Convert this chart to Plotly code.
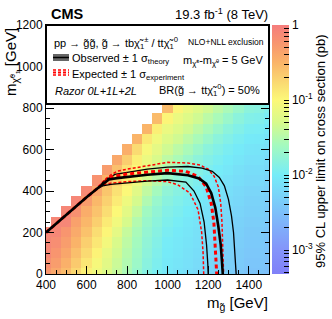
import math
import plotly.graph_objects as go

# ---------------- data ----------------
gluino_mass = list(range(400, 1501, 50))      # bin centres [GeV]
lsp_mass = list(range(0, 801, 50))            # bin centres [GeV]

# log10(95% CL upper limit [pb]); each row starts at the first allowed gluino bin
log10_limit_rows = [
    [-0.25, -0.40, -0.55, -0.75, -0.95, -1.10, -1.25, -1.40, -1.55, -1.70, -1.85, -1.95, -2.05, -2.10, -2.15, -2.20, -2.25, -2.30, -2.35, -2.40, -2.45, -2.45, -2.50],
    [-0.18, -0.31, -0.47, -0.66, -0.86, -1.05, -1.21, -1.37, -1.52, -1.67, -1.83, -1.93, -2.03, -2.08, -2.13, -2.18, -2.23, -2.28, -2.33, -2.38, -2.43, -2.43, -2.48],
    [-0.11, -0.24, -0.38, -0.58, -0.77, -0.96, -1.16, -1.33, -1.49, -1.64, -1.80, -1.91, -2.01, -2.06, -2.11, -2.16, -2.21, -2.26, -2.31, -2.36, -2.41, -2.41, -2.46],
    [-0.10, -0.17, -0.31, -0.49, -0.69, -0.87, -1.07, -1.28, -1.45, -1.61, -1.77, -1.88, -1.99, -2.04, -2.09, -2.14, -2.19, -2.24, -2.29, -2.34, -2.39, -2.39, -2.44],
    [-0.10, -0.10, -0.24, -0.42, -0.60, -0.79, -0.98, -1.19, -1.40, -1.57, -1.74, -1.85, -1.96, -2.02, -2.07, -2.12, -2.17, -2.22, -2.27, -2.32, -2.37, -2.37, -2.42],
    [-0.10, -0.10, -0.34, -0.52, -0.69, -0.89, -1.09, -1.30, -1.51, -1.69, -1.81, -1.92, -1.98, -2.04, -2.09, -2.14, -2.19, -2.24, -2.29, -2.34, -2.34, -2.39],
    [-0.10, -0.20, -0.44, -0.61, -0.79, -1.00, -1.20, -1.41, -1.63, -1.76, -1.88, -1.94, -2.00, -2.06, -2.11, -2.16, -2.21, -2.26, -2.31, -2.31, -2.36],
    [-0.10, -0.30, -0.53, -0.71, -0.90, -1.11, -1.31, -1.53, -1.70, -1.83, -1.90, -1.96, -2.02, -2.08, -2.13, -2.18, -2.23, -2.28, -2.28, -2.33],
    [-0.13, -0.39, -0.63, -0.82, -1.01, -1.22, -1.43, -1.60, -1.77, -1.85, -1.92, -1.98, -2.04, -2.10, -2.15, -2.20, -2.25, -2.25, -2.30],
    [-0.21, -0.48, -0.73, -0.92, -1.11, -1.33, -1.49, -1.66, -1.78, -1.86, -1.93, -1.99, -2.05, -2.11, -2.16, -2.21, -2.21, -2.26],
    [-0.30, -0.58, -0.83, -1.02, -1.22, -1.39, -1.55, -1.67, -1.79, -1.87, -1.94, -2.00, -2.06, -2.12, -2.17, -2.17, -2.22],
    [-0.40, -0.68, -0.93, -1.13, -1.28, -1.45, -1.56, -1.68, -1.80, -1.88, -1.95, -2.01, -2.07, -2.13, -2.13, -2.18],
    [-0.45, -0.78, -1.04, -1.19, -1.34, -1.46, -1.57, -1.69, -1.81, -1.89, -1.96, -2.02, -2.08, -2.09, -2.14],
    [-0.50, -0.88, -1.09, -1.24, -1.34, -1.46, -1.57, -1.69, -1.81, -1.89, -1.96, -2.02, -2.03, -2.09],
    [-0.50, -0.93, -1.14, -1.24, -1.34, -1.46, -1.57, -1.69, -1.81, -1.89, -1.96, -1.97, -2.03],
    [-0.55, -0.98, -1.14, -1.24, -1.34, -1.46, -1.57, -1.69, -1.81, -1.89, -1.91, -1.97],
    [-0.55, -0.98, -1.14, -1.24, -1.34, -1.46, -1.57, -1.69, -1.81, -1.84, -1.91],
]

# exclusion contours (gluino mass, LSP mass)
obs_x = [400, 450, 500, 550, 600, 650, 690, 710, 750, 800, 900, 1000, 1100, 1155, 1190, 1215, 1235, 1250, 1262, 1268, 1272]
obs_y = [200, 243, 285, 328, 370, 410, 442, 455, 462, 468, 478, 486, 476, 460, 435, 390, 320, 230, 140, 60, 0]

obs_up_x = [400, 450, 500, 550, 600, 650, 690, 740, 800, 900, 1000, 1100, 1170, 1220, 1255, 1280, 1300, 1315, 1325, 1333, 1338]
obs_up_y = [200, 243, 285, 328, 370, 410, 450, 480, 490, 505, 515, 518, 510, 495, 465, 425, 360, 280, 200, 100, 0]

obs_dn_x = [400, 450, 500, 550, 600, 650, 680, 720, 800, 900, 1000, 1090, 1130, 1160, 1180, 1192, 1198, 1200]
obs_dn_y = [200, 243, 285, 328, 370, 410, 425, 432, 440, 448, 453, 443, 400, 340, 250, 140, 50, 0]

exp_x = [400, 450, 500, 550, 600, 650, 695, 720, 800, 900, 1000, 1090, 1150, 1190, 1215, 1228, 1236, 1242]
exp_y = [200, 243, 285, 328, 370, 410, 450, 468, 482, 492, 500, 495, 470, 420, 340, 250, 130, 0]

exp_up_x = [400, 450, 500, 550, 600, 650, 690, 720, 750, 800, 900, 1000, 1100, 1160, 1200, 1230, 1250, 1262, 1268, 1272, 1276]
exp_up_y = [200, 243, 285, 328, 370, 410, 455, 478, 495, 505, 520, 538, 535, 525, 505, 470, 420, 340, 250, 150, 0]

exp_dn_x = [400, 450, 500, 550, 600, 650, 680, 720, 800, 900, 1000, 1050, 1110, 1150, 1168, 1175, 1178]
exp_dn_y = [200, 243, 285, 328, 370, 410, 430, 438, 445, 450, 445, 430, 390, 310, 200, 100, 0]

y_ticks = [0, 200, 400, 600, 800, 1000, 1200]
x_ticks = [400, 600, 800, 1000, 1200, 1400]
cbar_decades = [-3, -2, -1, 0]
cbar_labels = ["10<sup>-3</sup>", "10<sup>-2</sup>", "10<sup>-1</sup>", "1"]

# ---------------- build ----------------
FONT = "Liberation Sans, Arial, Helvetica, sans-serif"
ZMIN, ZMAX = -3.32, 0.0

z = []
for L, row in zip(lsp_mass, log10_limit_rows):
    start = (max(400, L + 200) - 400) // 50
    z.append([None] * start + row)

def pos(v):
    return (v - ZMIN) / (ZMAX - ZMIN)

colorscale = [
    [0.0, "rgb(128,128,248)"],
    [pos(-3.0), "rgb(132,148,250)"],
    [pos(-2.5), "rgb(125,192,250)"],
    [pos(-2.0), "rgb(118,236,248)"],
    [pos(-1.6), "rgb(165,250,190)"],
    [pos(-1.3), "rgb(215,250,140)"],
    [pos(-1.0), "rgb(252,248,120)"],
    [pos(-0.8), "rgb(250,222,115)"],
    [pos(-0.5), "rgb(250,180,105)"],
    [pos(-0.25), "rgb(248,150,110)"],
    [1.0, "rgb(245,125,125)"],
]

tickvals, ticktext = [], []
for d in range(-4, 1):
    for k in range(1, 10):
        v = d + math.log10(k)
        if ZMIN <= v <= ZMAX + 1e-9:
            tickvals.append(v)
            ticktext.append(cbar_labels[cbar_decades.index(d)] if (k == 1 and d in cbar_decades) else "")

fig = go.Figure()
fig.add_trace(go.Heatmap(
    x=gluino_mass, y=lsp_mass, z=z, zmin=ZMIN, zmax=ZMAX,
    colorscale=colorscale, hoverongaps=False,
    colorbar=dict(x=1.0135, xanchor="left", y=0.5, yanchor="middle", len=1, lenmode="fraction",
                  thickness=17, thicknessmode="pixels", xpad=0, ypad=0, outlinewidth=0,
                  tickvals=tickvals, ticktext=ticktext, ticks="inside", ticklen=5,
                  tickcolor="black", tickfont=dict(family=FONT, size=12, color="black")),
))

def line(x, y, color, width, dash=None):
    fig.add_trace(go.Scatter(x=x, y=y, mode="lines", showlegend=False, hoverinfo="skip",
                             line=dict(color=color, width=width, dash=dash)))

line(exp_up_x, exp_up_y, "red", 1.5, "3px,2px")
line(exp_dn_x, exp_dn_y, "red", 1.5, "3px,2px")
line(obs_up_x, obs_up_y, "black", 1.3)
line(obs_dn_x, obs_dn_y, "black", 1.3)
line(exp_x, exp_y, "red", 3, "4px,3px")
line(obs_x, obs_y, "black", 2.6)

axis_common = dict(showline=True, linecolor="black", linewidth=1, mirror="ticks", ticks="inside",
                   ticklen=8, tickcolor="black", showgrid=False, zeroline=False,
                   tickfont=dict(family=FONT, size=12, color="black"),
                   minor=dict(ticks="inside", ticklen=4, tickcolor="black", showgrid=False))
fig.update_xaxes(range=[400, 1500], tickvals=x_ticks, **axis_common)
fig.update_xaxes(minor_dtick=50, minor_tick0=400)
fig.update_yaxes(range=[0, 1200], tickvals=y_ticks, **axis_common)
fig.update_yaxes(minor_dtick=50, minor_tick0=0)

W, H = 332, 319
L_M, R_M, T_M, B_M = 46, 63, 25, 45
PW, PH = W - L_M - R_M, H - T_M - B_M

def px(xp):
    return (xp - L_M) / PW

def py(yp):
    return (H - B_M - yp) / PH

shapes = [
    dict(type="rect", xref="paper", yref="paper", x0=0, x1=1, y0=py(104), y1=1,
         fillcolor="white", line=dict(color="black", width=2), layer="above"),
]
for yy, w in [(55, 1.2), (57.5, 2.4), (60, 1.2)]:
    shapes.append(dict(type="line", xref="paper", yref="paper", x0=px(53), x1=px(69), y0=py(yy), y1=py(yy),
                       line=dict(color="black", width=w), layer="above"))
for yy, w in [(70, 1.3), (72.5, 2.2), (75, 1.3)]:
    shapes.append(dict(type="line", xref="paper", yref="paper", x0=px(53), x1=px(69), y0=py(yy), y1=py(yy),
                       line=dict(color="red", width=w, dash="3px,2px"), layer="above"))

def ann(text, x, y, size, xanchor="left", yanchor="middle", angle=0):
    return dict(text=text, x=px(x), y=py(y), xref="paper", yref="paper", showarrow=False,
                xanchor=xanchor, yanchor=yanchor, textangle=angle,
                font=dict(family=FONT, size=size, color="black"))

annotations = [
    ann("<b>CMS</b>", 49, 14, 14.5),
    ann("19.3 fb<sup>-1</sup> (8 TeV)", 270, 14, 13, xanchor="right"),
    ann("pp → g̃g̃, g̃ → tbχ̃<sub>1</sub><sup>±</sup> / ttχ̃<sub>1</sub><sup>0</sup>", 52, 43, 11),
    ann("NLO+NLL exclusion", 186, 42, 8.5),
    ann("Observed ± 1 σ<sub>theory</sub>", 70, 59, 11),
    ann("m<sub>χ̃<sup>±</sup></sub>-m<sub>χ̃<sup>0</sup></sub> = 5 GeV", 181, 61, 11),
    ann("Expected ± 1 σ<sub>experiment</sub>", 70, 75, 11),
    ann("<i>Razor 0L+1L+2L</i>", 53, 91, 11),
    ann("BR(g̃ → ttχ̃<sub>1</sub><sup>0</sup>) = 50%", 157, 90, 11),
    ann("m<sub>g̃</sub> [GeV]", 270, 303, 15, xanchor="right"),
    ann("m<sub>χ̃<sup>0</sup>₁</sub> [GeV]", 12, 62, 15, xanchor="center", angle=-90),
    ann("95% CL upper limit on cross section (pb)", 320, 151, 13, xanchor="center", angle=-90),
]

fig.update_layout(
    width=W, height=H, margin=dict(l=L_M, r=R_M, t=T_M, b=B_M, pad=0),
    paper_bgcolor="white", plot_bgcolor="white", showlegend=False,
    shapes=shapes, annotations=annotations,
    font=dict(family=FONT, color="black"),
)

fig.write_html("out.html", config={"displayModeBar": False},
               post_script="document.body.style.margin='0';document.body.style.overflow='hidden';")
